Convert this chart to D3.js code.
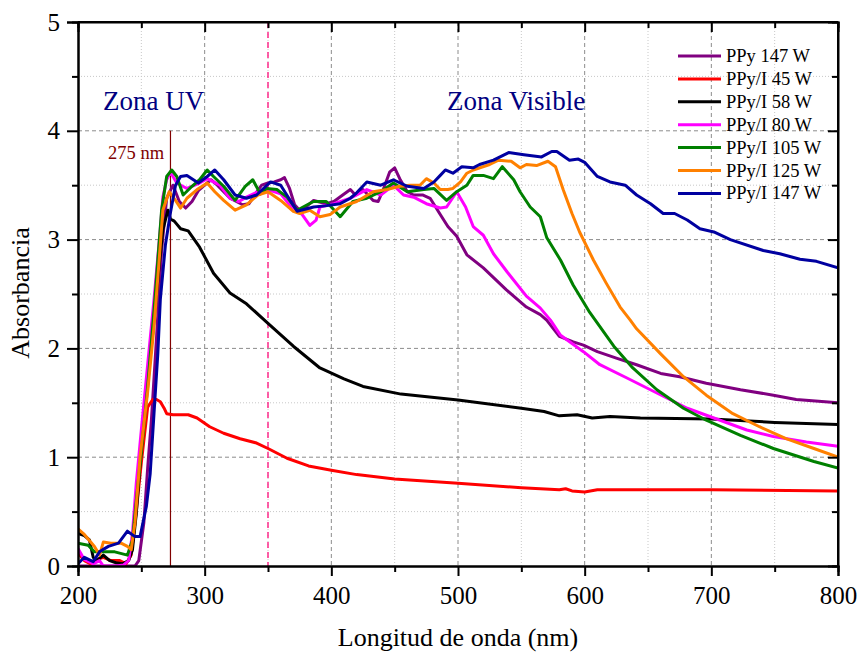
<!DOCTYPE html>
<html lang="es">
  <head>
    <meta charset="UTF-8" />
    <title>Absorbancia UV-Vis</title>
    <style>
      body { margin: 0; background: #fff; }
      text { font-family: "Liberation Serif", "Times New Roman", serif; }
    </style>
  </head>
  <body>
    <svg width="860" height="654"></svg>
    <script src="https://cdn.jsdelivr.net/npm/d3@7"></script>
    <script>
      // [longitud de onda (nm), absorbancia]
      const ppy147 = [[200,0.0],[245,0.0],[248,0.05],[252,0.4],[255,0.9],[258,1.35],[262,2.1],[266,2.9],[270,3.38],[275,3.5],[280,3.35],[285,3.29],[290,3.35],[295,3.45],[300,3.5],[305,3.55],[310,3.5],[315,3.44],[320,3.38],[325,3.35],[330,3.32],[335,3.33],[340,3.42],[345,3.5],[350,3.52],[355,3.53],[360,3.55],[363,3.57],[367,3.47],[371,3.32],[375,3.27],[380,3.3],[386,3.36],[396,3.33],[402,3.35],[409,3.41],[415,3.46],[419,3.41],[425,3.46],[433,3.36],[437,3.35],[441,3.46],[446,3.62],[450,3.66],[454,3.56],[460,3.44],[465,3.41],[472,3.41],[478,3.38],[486,3.23],[492,3.12],[499,3.03],[507,2.86],[520,2.74],[538,2.54],[554,2.38],[565,2.31],[570,2.26],[580,2.11],[591,2.06],[599,2.03],[610,1.97],[625,1.91],[641,1.85],[660,1.77],[675,1.74],[696,1.68],[723,1.62],[749,1.57],[767,1.53],[800,1.5]];
      const ppyI45 = [[200,0.12],[205,0.05],[210,0.02],[215,0.06],[220,0.08],[226,0.05],[233,0.05],[238,0.02],[242,0.1],[246,0.5],[250,0.95],[255,1.46],[259,1.53],[262,1.53],[265,1.51],[268,1.45],[270,1.4],[275,1.39],[287,1.39],[294,1.36],[304,1.28],[315,1.22],[328,1.17],[341,1.13],[350,1.08],[365,0.99],[382,0.92],[400,0.88],[420,0.84],[450,0.8],[500,0.76],[550,0.72],[580,0.7],[585,0.71],[590,0.69],[600,0.68],[610,0.7],[700,0.7],[800,0.69]];
      const ppyI58 = [[200,0.3],[205,0.28],[209,0.24],[212,0.08],[215,0.05],[220,0.1],[225,0.05],[230,0.03],[235,0.02],[240,0.05],[243,0.15],[246,0.48],[250,1.1],[255,1.7],[260,2.25],[264,2.75],[267,3.09],[271,3.27],[273,3.19],[276,3.17],[281,3.1],[287,3.08],[296,2.93],[307,2.69],[320,2.51],[333,2.41],[350,2.23],[370,2.02],[391,1.82],[410,1.72],[425,1.65],[455,1.58],[500,1.525],[550,1.45],[568,1.42],[580,1.38],[594,1.39],[606,1.36],[620,1.375],[644,1.36],[700,1.35],[750,1.32],[800,1.3]];
      const ppyI80 = [[200,0.16],[205,0.06],[212,0.02],[217,0.05],[220,0.0],[230,0.0],[236,0.01],[240,0.05],[243,0.3],[246,0.76],[250,1.25],[255,1.85],[260,2.45],[265,3.1],[267,3.39],[270,3.55],[273,3.62],[278,3.52],[286,3.47],[296,3.52],[302,3.56],[312,3.5],[320,3.38],[327,3.35],[333,3.39],[344,3.45],[352,3.45],[360,3.42],[367,3.32],[377,3.23],[383,3.13],[388,3.18],[391,3.3],[402,3.33],[415,3.38],[428,3.46],[439,3.41],[449,3.5],[457,3.41],[465,3.39],[475,3.33],[486,3.29],[491,3.3],[499,3.44],[506,3.3],[512,3.12],[520,3.04],[528,2.87],[539,2.7],[554,2.48],[565,2.37],[573,2.26],[581,2.12],[599,1.97],[612,1.85],[633,1.73],[657,1.59],[681,1.45],[702,1.36],[728,1.25],[749,1.19],[775,1.14],[800,1.1]];
      const ppyI105 = [[200,0.21],[208,0.19],[213,0.13],[221,0.13],[229,0.13],[239,0.1],[243,0.24],[246,0.6],[250,1.05],[255,1.65],[260,2.35],[266,3.27],[270,3.58],[274,3.64],[278,3.58],[283,3.41],[290,3.49],[296,3.55],[302,3.64],[307,3.58],[315,3.49],[324,3.36],[332,3.49],[338,3.55],[344,3.42],[349,3.47],[357,3.46],[365,3.39],[373,3.27],[381,3.32],[386,3.35],[396,3.35],[407,3.21],[417,3.35],[428,3.38],[439,3.44],[449,3.52],[460,3.44],[473,3.46],[481,3.47],[491,3.36],[499,3.44],[507,3.5],[512,3.59],[520,3.59],[528,3.56],[535,3.67],[544,3.55],[549,3.44],[557,3.3],[565,3.21],[570,3.02],[581,2.81],[591,2.58],[604,2.33],[623,2.02],[638,1.82],[657,1.62],[678,1.45],[696,1.34],[723,1.2],[749,1.08],[781,0.96],[800,0.9]];
      const ppyI125 = [[200,0.34],[205,0.29],[213,0.18],[217,0.1],[220,0.22],[226,0.21],[234,0.21],[239,0.18],[242,0.15],[245,0.4],[249,1.0],[255,1.6],[260,2.2],[264,2.8],[267,3.27],[272,3.44],[277,3.36],[281,3.29],[286,3.38],[294,3.46],[302,3.52],[308,3.44],[315,3.36],[324,3.27],[333,3.32],[342,3.41],[350,3.44],[360,3.36],[370,3.26],[375,3.24],[383,3.27],[391,3.21],[399,3.23],[407,3.3],[420,3.35],[433,3.44],[444,3.46],[454,3.49],[462,3.5],[470,3.5],[475,3.56],[481,3.52],[486,3.46],[492,3.46],[496,3.47],[502,3.53],[507,3.61],[512,3.64],[525,3.69],[532,3.73],[542,3.72],[549,3.66],[554,3.69],[562,3.68],[571,3.72],[577,3.67],[583,3.46],[590,3.24],[596,3.07],[607,2.81],[617,2.6],[628,2.38],[636,2.26],[641,2.18],[660,1.95],[678,1.74],[696,1.57],[717,1.4],[738,1.28],[759,1.17],[781,1.08],[800,1.0]];
      const ppyI147 = [[200,0.02],[205,0.08],[212,0.04],[217,0.13],[221,0.16],[224,0.18],[232,0.21],[239,0.32],[245,0.27],[249,0.27],[254,0.55],[257,0.85],[260,1.4],[263,1.95],[265,2.45],[269,2.95],[273,3.25],[277,3.5],[281,3.58],[286,3.59],[295,3.52],[302,3.58],[308,3.64],[315,3.55],[324,3.41],[333,3.38],[341,3.41],[352,3.53],[360,3.5],[373,3.26],[386,3.3],[395,3.31],[407,3.33],[415,3.38],[420,3.43],[428,3.53],[439,3.5],[449,3.55],[460,3.49],[473,3.47],[481,3.53],[486,3.59],[490,3.64],[496,3.61],[503,3.67],[512,3.66],[517,3.69],[528,3.73],[540,3.8],[552,3.78],[566,3.76],[574,3.81],[578,3.81],[588,3.73],[595,3.74],[600,3.71],[610,3.58],[620,3.53],[632,3.5],[641,3.41],[652,3.33],[662,3.24],[671,3.24],[681,3.18],[691,3.1],[702,3.07],[715,3.0],[741,2.9],[754,2.87],[770,2.82],[783,2.8],[800,2.74]];

      const seriesNames = ["PPy 147 W", "PPy/I 45 W", "PPy/I 58 W", "PPy/I 80 W", "PPy/I 105 W", "PPy/I 125 W", "PPy/I 147 W"];
      const seriesData = [ppy147, ppyI45, ppyI58, ppyI80, ppyI105, ppyI125, ppyI147];
      const seriesColors = ["#800080", "#ff0000", "#000000", "#ff00ff", "#008000", "#ff8000", "#0000a0"];

      const xTicks = [200, 300, 400, 500, 600, 700, 800];
      const yTicks = [0, 1, 2, 3, 4, 5];
      const peakLine = 273; // marcada como "275 nm"
      const zoneLine = 350;

      const svg = d3.select("svg");
      const mLeft = 78, mRight = 838, mTop = 22, mBottom = 566;
      const x = d3.scaleLinear().domain([200, 800]).range([mLeft, mRight]);
      const y = d3.scaleLinear().domain([0, 5]).range([mBottom, mTop]);

      svg.append("defs").append("clipPath").attr("id", "plot")
        .append("rect").attr("x", mLeft).attr("y", mTop)
        .attr("width", mRight - mLeft).attr("height", mBottom - mTop);

      // grid: minor dotted, major dashed
      const minorX = d3.range(250, 800, 100), minorY = d3.range(0.5, 5, 1);
      const grid = svg.append("g");
      grid.selectAll(".mx").data(minorX).join("line")
        .attr("x1", d => x(d)).attr("x2", d => x(d)).attr("y1", mTop).attr("y2", mBottom)
        .attr("stroke", "#c8c8c8").attr("stroke-dasharray", "1,2");
      grid.selectAll(".my").data(minorY).join("line")
        .attr("y1", d => y(d)).attr("y2", d => y(d)).attr("x1", mLeft).attr("x2", mRight)
        .attr("stroke", "#c8c8c8").attr("stroke-dasharray", "1,2");
      grid.selectAll(".gx").data(xTicks.slice(1, -1)).join("line")
        .attr("x1", d => x(d)).attr("x2", d => x(d)).attr("y1", mTop).attr("y2", mBottom)
        .attr("stroke", "#8c8c8c").attr("stroke-dasharray", "4,3");
      grid.selectAll(".gy").data(yTicks.slice(1, -1)).join("line")
        .attr("y1", d => y(d)).attr("y2", d => y(d)).attr("x1", mLeft).attr("x2", mRight)
        .attr("stroke", "#8c8c8c").attr("stroke-dasharray", "4,3");

      // zone separator and peak marker
      svg.append("line")
        .attr("x1", x(zoneLine)).attr("x2", x(zoneLine)).attr("y1", mTop).attr("y2", mBottom)
        .attr("stroke", "#ff2a8a").attr("stroke-width", 1.5).attr("stroke-dasharray", "6,4");
      svg.append("line")
        .attr("x1", x(peakLine)).attr("x2", x(peakLine)).attr("y1", y(4)).attr("y2", mBottom)
        .attr("stroke", "#800000").attr("stroke-width", 1.2);

      const line = d3.line().x(d => x(d[0])).y(d => y(d[1]));
      svg.append("g").attr("clip-path", "url(#plot)")
        .selectAll("path").data(seriesData).join("path")
        .attr("d", line)
        .attr("fill", "none")
        .attr("stroke", (d, i) => seriesColors[i])
        .attr("stroke-width", 3)
        .attr("stroke-linejoin", "round");

      // axes (outward on left/bottom, inward on top/right)
      const fs = 25;
      const axB = svg.append("g").attr("transform", `translate(0,${mBottom})`)
        .call(d3.axisBottom(x).tickValues(xTicks).tickSize(10).tickPadding(10).tickFormat(d3.format("d")));
      axB.append("g").call(d3.axisBottom(x).tickValues(minorX).tickSize(6).tickFormat(""));
      const axL = svg.append("g").attr("transform", `translate(${mLeft},0)`)
        .call(d3.axisLeft(y).tickValues(yTicks).tickSize(11).tickPadding(7).tickFormat(d3.format("d")));
      axL.append("g").call(d3.axisLeft(y).tickValues(minorY).tickSize(6).tickFormat(""));
      const axT = svg.append("g").attr("transform", `translate(0,${mTop})`)
        .call(d3.axisBottom(x).tickValues(xTicks).tickSize(10).tickFormat(""));
      axT.append("g").call(d3.axisBottom(x).tickValues(minorX).tickSize(6).tickFormat(""));
      const axR = svg.append("g").attr("transform", `translate(${mRight},0)`)
        .call(d3.axisLeft(y).tickValues(yTicks).tickSize(10).tickFormat(""));
      axR.append("g").call(d3.axisLeft(y).tickValues(minorY).tickSize(6).tickFormat(""));
      [axB, axL, axT, axR].forEach(a => {
        a.attr("font-family", "Liberation Serif, serif");
        a.selectAll("path.domain").attr("stroke", "#000").attr("stroke-width", 2);
        a.selectAll("line").attr("stroke", "#000").attr("stroke-width", 2);
        a.selectAll("text").attr("font-size", fs).attr("fill", "#000");
      });
      axT.select("path.domain").attr("d", `M${mLeft},0H${mRight}`);
      axR.select("path.domain").attr("d", `M0,${mTop}V${mBottom}`);

      svg.append("text").attr("x", 458).attr("y", 646)
        .attr("text-anchor", "middle").attr("font-size", 26)
        .text("Longitud de onda (nm)");
      svg.append("text")
        .attr("transform", `translate(29,293) rotate(-90)`)
        .attr("text-anchor", "middle").attr("font-size", 26)
        .text("Absorbancia");

      svg.append("text").attr("x", 103).attr("y", 110)
        .attr("font-size", 27).attr("fill", "#000080").text("Zona UV");
      svg.append("text").attr("x", 447).attr("y", 110)
        .attr("font-size", 27).attr("fill", "#000080").text("Zona Visible");
      svg.append("text").attr("x", 108).attr("y", 159)
        .attr("font-size", 18.5).attr("fill", "#800000").text("275 nm");

      // legend
      const legend = svg.append("g").attr("transform", "translate(678,56)");
      const rows = legend.selectAll("g").data(seriesNames).join("g")
        .attr("transform", (d, i) => `translate(0,${i * 22.9})`);
      rows.append("line").attr("x1", 0).attr("x2", 43)
        .attr("stroke", (d, i) => seriesColors[i]).attr("stroke-width", 3);
      rows.append("text").attr("x", 48).attr("y", 6)
        .attr("font-size", 18.5).text(d => d);
    </script>
  </body>
</html>
